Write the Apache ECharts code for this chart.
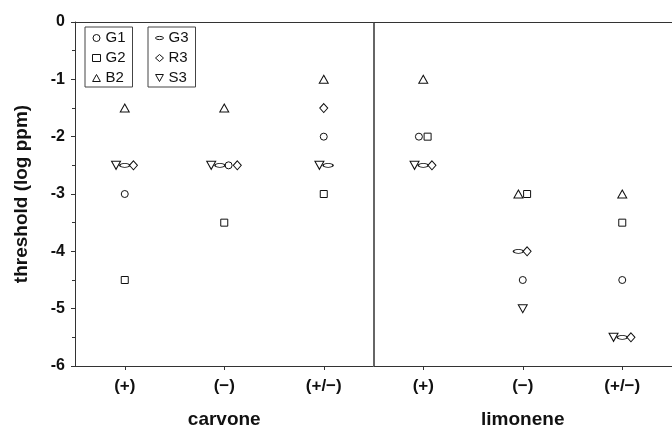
<!DOCTYPE html>
<html>
<head>
<meta charset="utf-8">
<script src="https://cdn.jsdelivr.net/npm/echarts@6/dist/echarts.min.js"></script>
<style>
  html, body { margin: 0; padding: 0; background: #fff; }
  #chart { width: 672px; height: 429px; }
</style>
</head>
<body>
<div id="chart"></div>
<script>
// Odorant enantiomer categories, grouped by compound
const conditions = ['(+)', '(\u2212)', '(+/\u2212)', '(+)', '(\u2212)', '(+/\u2212)'];
const compounds = ['carvone', 'limonene'];
const yTicks = [-6, -5, -4, -3, -2, -1, 0];
// Boundary between the two compound panels, in condition units (0..6)
const panelBoundary = 3;

// Detection thresholds (log ppm) per subject, one value per condition
const G1 = [-3, -2.5, -2, -2, -4.5, -4.5];
const G2 = [-4.5, -3.5, -3, -2, -3, -3.5];
const B2 = [-1.5, -1.5, -1, -1, -3, -3];
const G3 = [-2.5, -2.5, -2.5, -2.5, -4, -5.5];
const R3 = [-2.5, -2.5, -1.5, -2.5, -4, -5.5];
const S3 = [-2.5, -2.5, -2.5, -2.5, -5, -5.5];

const subjects = [
  { name: 'G1', values: G1, symbol: 'circle', size: 7 },
  { name: 'G2', values: G2, symbol: 'rect', size: 7 },
  { name: 'B2', values: B2, symbol: 'path://M5,0L10,9L0,9Z', size: [9, 8] },
  { name: 'G3', values: G3, symbol: 'path://M0,2A5,2,0,1,0,10,2A5,2,0,1,0,0,2Z', size: [10, 4] },
  { name: 'R3', values: R3, symbol: 'diamond', size: [8, 9] },
  { name: 'S3', values: S3, symbol: 'path://M0,0L10,0L5,9Z', size: [9, 8] }
];

// Left-to-right order used when several subjects share the same value
const sideOrder = ['S3', 'G3', 'G1', 'B2', 'G2', 'R3'];
const spread = 8.7;

function offsetFor(name, ci) {
  const v = subjects.find(s => s.name === name).values[ci];
  const same = sideOrder.filter(n => subjects.find(s => s.name === n).values[ci] === v);
  const k = same.indexOf(name);
  return (k - (same.length - 1) / 2) * spread;
}

const series = subjects.map(s => ({
  name: s.name,
  type: 'scatter',
  symbol: s.symbol,
  symbolSize: s.size,
  itemStyle: { color: '#fff', borderColor: '#111', borderWidth: 1, opacity: 1 },
  emphasis: { disabled: true },
  data: s.values.map((v, i) => ({ value: [i, v], symbolOffset: [offsetFor(s.name, i), 0] }))
}));

// Vertical divider between the carvone and limonene panels
series.push({
  name: 'divider',
  type: 'scatter',
  xAxisIndex: 2,
  data: [],
  silent: true,
  markLine: {
    silent: true,
    symbol: 'none',
    label: { show: false },
    lineStyle: { color: '#333', width: 1.5, type: 'solid' },
    data: [{ xAxis: panelBoundary }]
  }
});

const legendBase = {
  orient: 'vertical',
  top: 27,
  itemWidth: 8,
  itemHeight: 7,
  itemGap: 4,
  padding: [3, 7, 1, 7],
  borderColor: '#444',
  borderWidth: 1,
  selectedMode: false,
  itemStyle: { borderWidth: 1, borderColor: '#111', color: '#fff' },
  textStyle: { fontFamily: 'Liberation Sans, Arial, sans-serif', fontSize: 15, lineHeight: 16, color: '#111' }
};

const chart = echarts.init(document.getElementById('chart'), null, { renderer: 'canvas' });
chart.setOption({
  animation: false,
  backgroundColor: '#fff',
  grid: { left: 75, right: 0, top: 22, bottom: 62 },
  legend: [
    Object.assign({ left: 85, data: ['G1', 'G2', 'B2'] }, legendBase),
    Object.assign({ left: 148, data: ['G3', 'R3', 'S3'] }, legendBase)
  ],
  xAxis: [
    {
      type: 'category',
      data: conditions,
      boundaryGap: true,
      axisLine: { show: true, onZero: false, lineStyle: { color: '#333' } },
      axisTick: { show: true, alignWithLabel: true, length: 4, lineStyle: { color: '#333' } },
      axisLabel: { margin: 12, fontFamily: 'Liberation Sans, Arial, sans-serif', fontWeight: 'bold', fontSize: 17, color: '#111' },
      splitLine: { show: false }
    },
    {
      type: 'category',
      data: compounds,
      position: 'bottom',
      boundaryGap: true,
      axisLine: { show: false, onZero: false },
      axisTick: { show: false },
      axisLabel: { margin: 44, fontFamily: 'Liberation Sans, Arial, sans-serif', fontWeight: 'bold', fontSize: 19, color: '#111' },
      splitLine: { show: false }
    },
    {
      // top frame line across both panels
      type: 'value',
      min: 0,
      max: conditions.length,
      position: 'top',
      axisLine: { show: true, onZero: false, lineStyle: { color: '#333' } },
      axisTick: { show: false },
      axisLabel: { show: false },
      splitLine: { show: false }
    }
  ],
  yAxis: {
    type: 'value',
    min: yTicks[0],
    max: yTicks[yTicks.length - 1],
    interval: 1,
    name: 'threshold (log ppm)',
    nameLocation: 'middle',
    nameGap: 44,
    nameTextStyle: { fontFamily: 'Liberation Sans, Arial, sans-serif', fontWeight: 'bold', fontSize: 19, color: '#111' },
    axisLine: { show: true, onZero: false, lineStyle: { color: '#333' } },
    axisTick: { show: true, length: 4, lineStyle: { color: '#333' } },
    minorTick: { show: true, splitNumber: 2, length: 3, lineStyle: { color: '#333' } },
    axisLabel: { margin: 10, fontFamily: 'Liberation Sans, Arial, sans-serif', fontWeight: 'bold', fontSize: 16, color: '#111' },
    splitLine: { show: false }
  },
  series: series
});
</script>
</body>
</html>
